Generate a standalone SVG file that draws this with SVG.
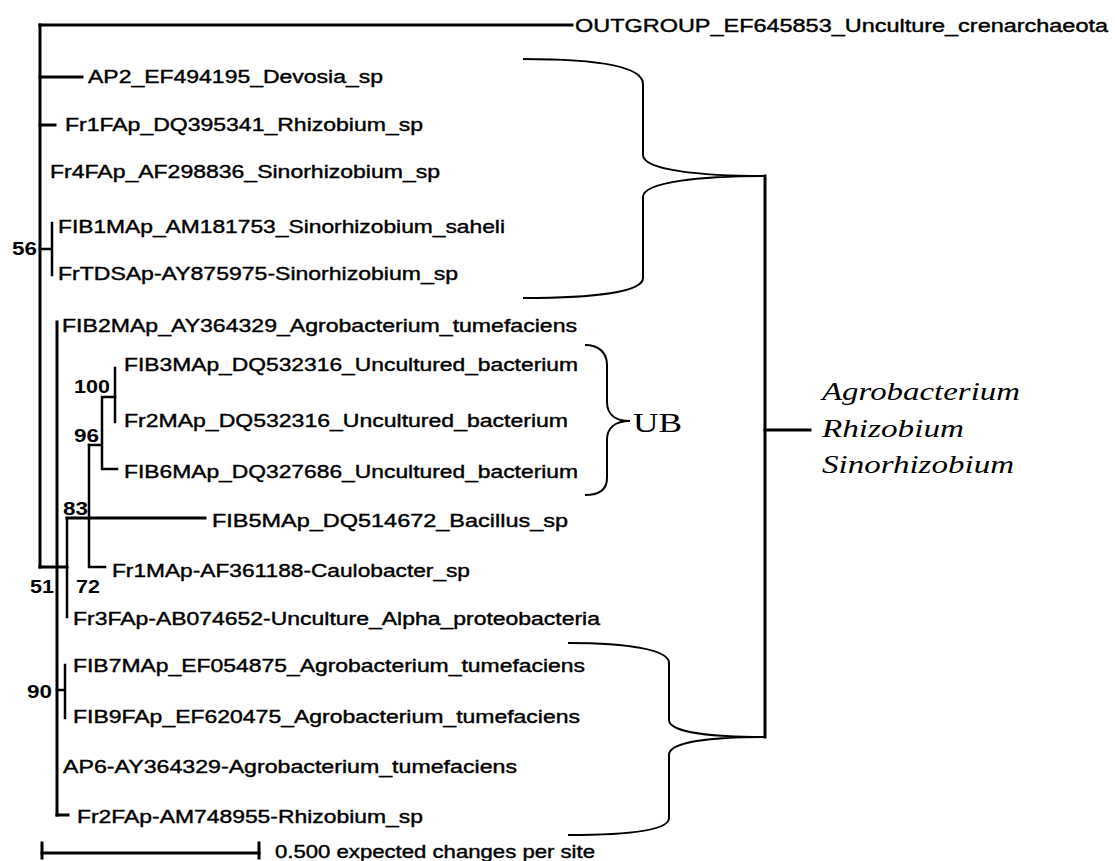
<svg xmlns="http://www.w3.org/2000/svg" width="1115" height="861" viewBox="0 0 1115 861">
<style>
.lbl{font-family:"Liberation Sans",Arial,sans-serif;font-size:18px;fill:#000;stroke:#000;stroke-width:0.4}
.bs{font-family:"Liberation Sans",Arial,sans-serif;font-size:18px;font-weight:bold;fill:#000}
.it{font-family:"Liberation Serif","Times New Roman",serif;font-size:26px;font-style:italic;fill:#000}
.ub{font-family:"Liberation Serif","Times New Roman",serif;font-size:28px;fill:#000}
.br{fill:none;stroke:#000;stroke-width:2}
.t{stroke:#000;stroke-width:3;fill:none;stroke-linecap:square}
.tn{stroke:#000;stroke-width:2.5;fill:none;stroke-linecap:square}
</style>
<rect width="1115" height="861" fill="#fff"/>
<g id="connectors">
<path class="t" d="M40,25 H572" stroke-width="3.5"/>
<path class="t" d="M40,25 V567" stroke-width="3.5"/>
<path class="t" d="M40,77 H82"/>
<path class="t" d="M40,125 H55"/>
<path class="tn" d="M40,249 H52 M52,223 V275"/>
<path class="t" d="M40,567 H67"/>
<path class="t" d="M57,322 V815"/>
<path class="tn" d="M67,518 V617"/>
<path class="t" d="M67,518 H205"/>
<path class="tn" d="M89,445 V567 M89,567 H105"/>
<path class="tn" d="M89,445 H102 M102,397 V469 M102,469 H117 M102,397 H115"/>
<path class="tn" d="M115,368 V422"/>
<path class="tn" d="M57,690 H65 M65,665 V718"/>
<path class="t" d="M57,815 H68"/>
</g>
<g id="node-56"><text class="bs" x="12" y="255" textLength="25" lengthAdjust="spacingAndGlyphs">56</text></g>
<g id="node-100"><text class="bs" x="74" y="393" textLength="36" lengthAdjust="spacingAndGlyphs">100</text></g>
<g id="node-96"><text class="bs" x="74" y="442" textLength="25" lengthAdjust="spacingAndGlyphs">96</text></g>
<g id="node-83"><text class="bs" x="63" y="515" textLength="25" lengthAdjust="spacingAndGlyphs">83</text></g>
<g id="node-51"><text class="bs" x="30" y="593" textLength="24" lengthAdjust="spacingAndGlyphs">51</text></g>
<g id="node-72"><text class="bs" x="76" y="593" textLength="24" lengthAdjust="spacingAndGlyphs">72</text></g>
<g id="node-90"><text class="bs" x="27" y="698" textLength="25" lengthAdjust="spacingAndGlyphs">90</text></g>
<g id="leaf-outgroup"><text class="lbl" x="575" y="32" textLength="533" lengthAdjust="spacingAndGlyphs">OUTGROUP_EF645853_Unculture_crenarchaeota</text></g>
<g id="leaf-ap2"><text class="lbl" x="88" y="83" textLength="295" lengthAdjust="spacingAndGlyphs">AP2_EF494195_Devosia_sp</text></g>
<g id="leaf-fr1fap"><text class="lbl" x="65" y="131" textLength="358" lengthAdjust="spacingAndGlyphs">Fr1FAp_DQ395341_Rhizobium_sp</text></g>
<g id="leaf-fr4fap"><text class="lbl" x="50" y="178" textLength="390" lengthAdjust="spacingAndGlyphs">Fr4FAp_AF298836_Sinorhizobium_sp</text></g>
<g id="leaf-fib1map"><text class="lbl" x="58" y="233" textLength="447" lengthAdjust="spacingAndGlyphs">FIB1MAp_AM181753_Sinorhizobium_saheli</text></g>
<g id="leaf-frtdsap"><text class="lbl" x="58" y="280" textLength="400" lengthAdjust="spacingAndGlyphs">FrTDSAp-AY875975-Sinorhizobium_sp</text></g>
<g id="leaf-fib2map"><text class="lbl" x="62" y="332" textLength="515" lengthAdjust="spacingAndGlyphs">FIB2MAp_AY364329_Agrobacterium_tumefaciens</text></g>
<g id="leaf-fib3map"><text class="lbl" x="124" y="371" textLength="454" lengthAdjust="spacingAndGlyphs">FIB3MAp_DQ532316_Uncultured_bacterium</text></g>
<g id="leaf-fr2map"><text class="lbl" x="124" y="427" textLength="444" lengthAdjust="spacingAndGlyphs">Fr2MAp_DQ532316_Uncultured_bacterium</text></g>
<g id="leaf-fib6map"><text class="lbl" x="124" y="478" textLength="454" lengthAdjust="spacingAndGlyphs">FIB6MAp_DQ327686_Uncultured_bacterium</text></g>
<g id="leaf-fib5map"><text class="lbl" x="212" y="527" textLength="356" lengthAdjust="spacingAndGlyphs">FIB5MAp_DQ514672_Bacillus_sp</text></g>
<g id="leaf-fr1map"><text class="lbl" x="112" y="577" textLength="358" lengthAdjust="spacingAndGlyphs">Fr1MAp-AF361188-Caulobacter_sp</text></g>
<g id="leaf-fr3fap"><text class="lbl" x="73" y="625" textLength="527" lengthAdjust="spacingAndGlyphs">Fr3FAp-AB074652-Unculture_Alpha_proteobacteria</text></g>
<g id="leaf-fib7map"><text class="lbl" x="73" y="672" textLength="512" lengthAdjust="spacingAndGlyphs">FIB7MAp_EF054875_Agrobacterium_tumefaciens</text></g>
<g id="leaf-fib9fap"><text class="lbl" x="73" y="723" textLength="507" lengthAdjust="spacingAndGlyphs">FIB9FAp_EF620475_Agrobacterium_tumefaciens</text></g>
<g id="leaf-ap6"><text class="lbl" x="63" y="773" textLength="454" lengthAdjust="spacingAndGlyphs">AP6-AY364329-Agrobacterium_tumefaciens</text></g>
<g id="leaf-fr2fap"><text class="lbl" x="77" y="823" textLength="346" lengthAdjust="spacingAndGlyphs">Fr2FAp-AM748955-Rhizobium_sp</text></g>
<g id="braces">
<path class="br" d="M523,59 C595,59 643,66 643,84 L643,155 C643,170 700,176 765,176 C700,176 643,182 643,197 L643,278 C643,292 595,298 523,298"/>
<path class="br" d="M568,643 C630,643 669,650 669,663 L669,720 C669,732 710,737 765,737 C710,737 669,742 669,755 L669,818 C669,830 630,835 568,835"/>
<path class="br" d="M585,345 C598,345 607,352 607,365 L607,402 C607,414 615,421 630,421 C615,421 607,428 607,440 L607,478 C607,490 598,495 585,495"/>
<path class="t" d="M765,176 V737"/>
<path class="t" d="M765,430 H810"/>
</g>
<g id="group-ub"><text class="ub" x="633" y="432" textLength="49" lengthAdjust="spacingAndGlyphs">UB</text></g>
<g id="group-genera">
<text class="it" x="822" y="400" textLength="198" lengthAdjust="spacingAndGlyphs">Agrobacterium</text>
<text class="it" x="822" y="437" textLength="142" lengthAdjust="spacingAndGlyphs">Rhizobium</text>
<text class="it" x="822" y="473" textLength="192" lengthAdjust="spacingAndGlyphs">Sinorhizobium</text>
</g>
<g id="scale-bar">
<path class="t" d="M42,853 H259"/>
<path class="t" d="M42,843 V858 M259,843 V858"/>
<text class="lbl" x="275" y="858" textLength="320" lengthAdjust="spacingAndGlyphs">0.500 expected changes per site</text>
</g>
</svg>
